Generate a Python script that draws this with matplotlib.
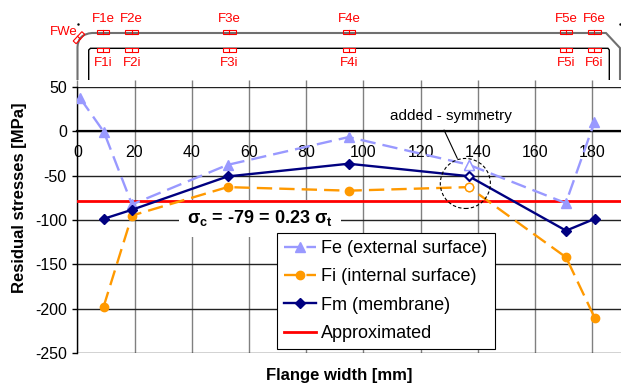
import matplotlib
matplotlib.use('Agg')
import matplotlib.pyplot as plt
import matplotlib.transforms as mtransforms
import numpy as np
from matplotlib.patches import Ellipse, Rectangle, PathPatch
from matplotlib.path import Path
from matplotlib.lines import Line2D

plt.rcParams['font.family'] = ['Liberation Sans', 'DejaVu Sans']
plt.rcParams['axes.unicode_minus'] = False
plt.rcParams['mathtext.fontset'] = 'custom'
plt.rcParams['mathtext.rm'] = 'Liberation Sans'
plt.rcParams['mathtext.bf'] = 'Liberation Sans:bold'
plt.rcParams['mathtext.it'] = 'Liberation Sans:italic'

# measured stresses [MPa] vs flange width [mm]
x_fe = [1, 9.3, 19.1, 52.5, 94.8, 136.8, 170.7, 180.7]
fe = [37, -1, -82.5, -38, -6.7, -37.8, -81, 10]
x_f = [9.2, 19.1, 52.5, 94.8, 136.8, 170.8, 180.8]
fi = [-197.4, -95, -63, -67, -63, -142, -210]
fm = [-98.7, -88.5, -51, -36.7, -50.7, -112, -98.7]
approx = -79
sym_x = 136.8  # point added by symmetry

gauges = ['F1', 'F2', 'F3', 'F4', 'F5', 'F6']
gauge_x = [9.0, 19.0, 53.1, 94.9, 170.8, 180.7]

xticks = np.arange(0, 181, 20)
yticks = np.arange(-250, 51, 50)

fig = plt.figure(figsize=(6.21, 3.87), dpi=100)
ax = fig.add_axes([0.1245, 0.0871, 0.8755, 0.6889])
ax.set_xlim(0, 190)
ax.set_ylim(-250, 50)
ax.set_xticks(xticks)
ax.set_yticks(yticks)
ax.set_axisbelow(True)
ax.yaxis.grid(True, color='#222222', lw=1.0)
ax.xaxis.grid(True, color='#808080', lw=1.0)
for s in ['top', 'right']:
    ax.spines[s].set_visible(False)
ax.spines['left'].set_linewidth(1.0)
ax.spines['bottom'].set_position(('data', 0))
ax.spines['bottom'].set_linewidth(1.6)
ax.tick_params(axis='y', direction='out', length=3.6, width=1, pad=4, labelsize=11.5)
ax.tick_params(axis='x', length=0, pad=10, labelsize=11.5)

secax = ax.secondary_xaxis('top')
secax.set_xticks(xticks)
secax.set_xticklabels([])
secax.tick_params(direction='out', length=5, width=1, color='#808080')
secax.spines['top'].set_visible(False)

ax.plot(x_fe, fe, color='#9999FF', lw=1.7, dashes=(6.5, 3), marker='^', ms=7,
        label='Fe (external surface)', zorder=4)
ax.plot(x_f, fi, color='#FF9900', lw=1.7, dashes=(6.5, 3), marker='o', ms=6,
        label='Fi (internal surface)', zorder=4)
ax.plot(x_f, fm, color='#000080', lw=1.7, marker='D', ms=5,
        label='Fm (membrane)', zorder=5)
ax.axhline(approx, color='red', lw=2, label='Approximated', zorder=3)

# hollow markers for the symmetric point
ax.plot(sym_x, fe[x_fe.index(sym_x)], '^', mfc='white', mec='#9999FF', ms=7, zorder=6)
ax.plot(sym_x, fi[x_f.index(sym_x)], 'o', mfc='white', mec='#FF9900', ms=6, zorder=6)
ax.plot(sym_x, fm[x_f.index(sym_x)], 'D', mfc='white', mec='#000080', ms=4, zorder=6)

ax.add_patch(Ellipse((135.6, -58.9), 17.5, 56.3, fill=False, ls=(0, (3, 2)),
                     lw=0.8, ec='black', zorder=6))
ax.annotate('added - symmetry', xy=(132.8, -30.7), xytext=(130.5, 16.5),
            ha='center', va='center', fontsize=11,
            arrowprops=dict(arrowstyle='-', lw=0.8, color='black',
                            relpos=(0.42, 0), shrinkA=3, shrinkB=0))

ax.text(63.8, -98.3, r'$\mathbf{σ_c}$ = -79 = 0.23 $\mathbf{σ_t}$', ha='center', va='center',
        fontsize=13, fontweight='bold', zorder=2.5,
        bbox=dict(boxstyle='square,pad=0.45', facecolor='white', edgecolor='none'))

ax.set_ylabel('Residual stresses [MPa]', fontsize=12, fontweight='bold')
ax.yaxis.set_label_coords(-0.092, 0.583)
ax.set_xlabel('Flange width [mm]', fontsize=12, fontweight='bold')
ax.xaxis.set_label_coords(0.481, -0.055)

leg = ax.legend(loc='lower left', bbox_to_anchor=(0.446, 0.098), bbox_transform=fig.transFigure,
                fontsize=13, frameon=True, fancybox=False, edgecolor='black', framealpha=1,
                borderaxespad=0, handlelength=1.75, handletextpad=0.3, labelspacing=0.62,
                borderpad=0.4, numpoints=1)
leg.get_frame().set_linewidth(0.8)
leg.set_zorder(10)

# flange cross-section sketch with strain gauges (pixel coords from top)
tr = mtransforms.Affine2D().scale(1 / 621, -1 / 387).translate(0, 1) + fig.transFigure
blend = mtransforms.blended_transform_factory(ax.transData, tr)

outer = Path([(77.5, 80), (77.5, 47), (78, 34), (92, 33), (606, 33), (620, 48), (620, 80)],
             [Path.MOVETO, Path.LINETO, Path.CURVE3, Path.CURVE3, Path.LINETO, Path.LINETO, Path.LINETO])
fig.add_artist(PathPatch(outer, fill=False, ec='#707070', lw=1.5, transform=tr))
inner = Path([(88.7, 80), (88.7, 50), (90.5, 48.3), (608, 48.3), (609.3, 50), (609.3, 80)])
fig.add_artist(PathPatch(inner, fill=False, ec='black', lw=1.0, transform=tr))

gw = 12.7 / 2.859
for name, gx in zip(gauges, gauge_x):
    for y0 in [30, 48.3]:
        fig.add_artist(Rectangle((gx - gw / 2, y0), gw, 4, fill=False, ec='red', lw=0.8, transform=blend))
        fig.add_artist(Line2D([gx, gx], [y0, y0 + 4], color='red', lw=0.8, transform=blend))
    fig.text(gx, 19.3, name + 'e', transform=blend, ha='center', va='center', color='red', fontsize=9.5)
    fig.text(gx, 63, name + 'i', transform=blend, ha='center', va='center', color='red', fontsize=9.5)

fig.text(64, 31.7, 'FWe', transform=tr, ha='center', va='center', color='red', fontsize=9.5)
fig.add_artist(Rectangle((79 - 6.35, 37.7 - 2), 12.7, 4, angle=-47, rotation_point='center',
                         fill=False, ec='red', lw=0.8, transform=tr))
fig.add_artist(Line2D([77.5, 80.5], [36.3, 39.1], color='red', lw=0.8, transform=tr))
fig.add_artist(Line2D([77.7, 620], [24, 24], ls='none', marker='.', ms=1.5, color='black', transform=tr))

fig.savefig('out.png', dpi=100)
